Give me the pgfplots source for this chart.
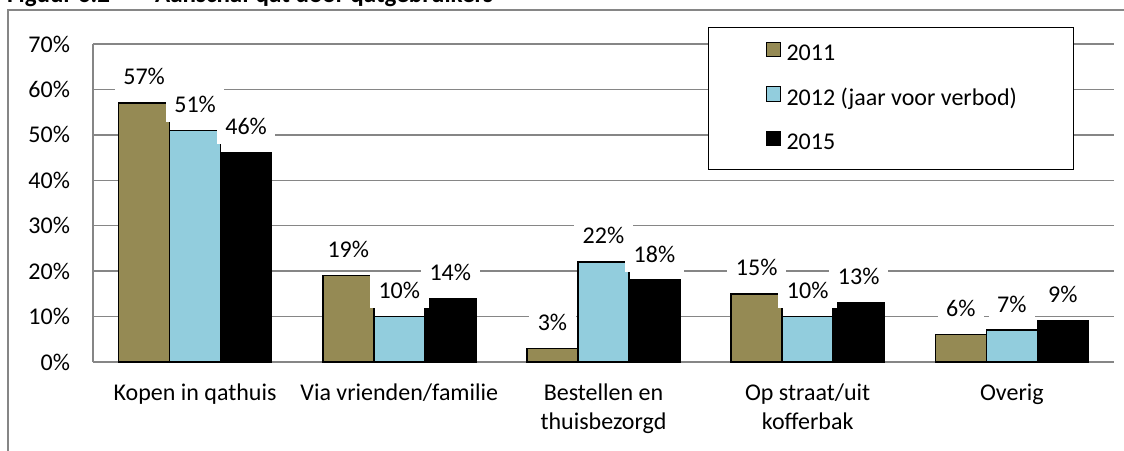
\documentclass[border=0pt]{standalone}
\usepackage{fontspec}
\setmainfont{Carlito}
\usepackage{pgfplots}
\pgfplotsset{compat=1.18}
\definecolor{olivebar}{RGB}{149,138,84}
\definecolor{bluebar}{RGB}{146,205,221}
\definecolor{gridgray}{RGB}{134,134,134}
\newcommand{\fs}{\fontsize{24}{29}\selectfont}
\begin{document}
\begin{tikzpicture}
\useasboundingbox (-93pt,-88pt) rectangle (1031pt,362pt);
\clip (-93pt,-88pt) rectangle (1031pt,362pt);
\draw[gridgray, line width=1.5pt] (-85pt,-120pt) -- (-85pt,352pt) -- (1120pt,352pt);
\node[anchor=base west, inner sep=0pt, font=\fontsize{25}{30}\selectfont\bfseries] at (-86pt,359pt) {Figuur 6.2};
\node[anchor=base west, inner sep=0pt, font=\fontsize{25}{30}\selectfont\bfseries] at (62pt,359pt) {Aanschaf qat door qatgebruikers};
\begin{axis}[
  at={(0pt,0pt)}, anchor=south west,
  scale only axis, width=1021pt, height=318pt,
  xmin=-0.5, xmax=4.5, ymin=0, ymax=70,
  ybar, bar width=51pt,
  xtick={0,1,2,3,4},
  xticklabels={Kopen in qathuis, Via vrienden/familie, {Bestellen en\\thuisbezorgd}, {Op straat/uit\\kofferbak}, Overig},
  xticklabel style={font=\fs, align=center, anchor=north, yshift=-18.5pt},
  ytick={0,10,...,70},
  yticklabel={\pgfmathprintnumber{\tick}\%},
  yticklabel style={font=\fs, xshift=-19.5pt},
  /pgf/number format/assume math mode=true,
  ymajorgrids, major grid style={gridgray, line width=1.5pt},
  axis x line*=bottom, axis y line*=left,
  axis line style={-, gridgray, line width=1.5pt},
  major tick length=0pt,
  nodes near coords={\pgfmathprintnumber{\pgfplotspointmeta}\%},
  nodes near coords style={font=\fs, fill=white, inner xsep=8.5pt, inner ysep=7.5pt, text height=17pt, text depth=2pt, anchor=south, yshift=8.5pt},
  legend cell align=left,
  legend style={at={(rel axis cs:0.6024,1.0535)}, anchor=north west, draw=black, line width=1pt, font=\fs, inner xsep=57pt, inner ysep=14.5pt, row sep=20.5pt,
    nodes={inner sep=0pt, text height=15pt, text depth=5pt},
    /tikz/every odd column/.append style={column sep=6pt}},
  legend image code/.code={\draw[#1,/tikz/.cd,draw=black,line width=1pt] (0pt,-1pt) rectangle (14pt,13.5pt);},
]
\addplot[fill=olivebar, draw=black, line width=1.5pt, bar shift=-51pt, nodes near coords=\empty] coordinates {(0,57) (1,19) (2,3) (3,15) (4,6)};
\addplot[fill=bluebar, draw=black, line width=1.5pt, bar shift=0pt, nodes near coords=\empty] coordinates {(0,51) (1,10) (2,22) (3,10) (4,7)};
\addplot[fill=black, draw=black, line width=1.5pt, bar shift=51pt, nodes near coords=\empty] coordinates {(0,46) (1,14) (2,18) (3,13) (4,9)};
\legend{2011, 2012 (jaar voor verbod), 2015}
\addplot[draw=none, fill=none, bar shift=-51pt, forget plot] coordinates {(0,57) (1,19) (2,3) (3,15) (4,6)};
\addplot[draw=none, fill=none, bar shift=0pt, forget plot] coordinates {(0,51) (1,10) (2,22) (3,10) (4,7)};
\addplot[draw=none, fill=none, bar shift=51pt, forget plot] coordinates {(0,46) (1,14) (2,18) (3,13) (4,9)};
\end{axis}
\end{tikzpicture}
\end{document}
